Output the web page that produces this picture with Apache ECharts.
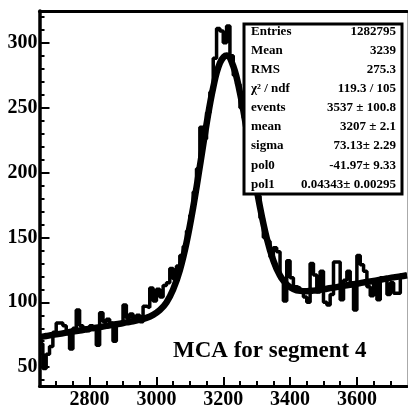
<!DOCTYPE html>
<html>
<head>
<meta charset="utf-8">
<script src="https://cdn.jsdelivr.net/npm/echarts@6/dist/echarts.min.js"></script>
<style>
html,body{margin:0;padding:0;background:#fff;}
#chart{width:408px;height:410px;}
</style>
</head>
<body>
<div id="chart"></div>
<script>
// ---- Histogram: 110 bins of width 10 from 2650 to 3750 ----
const binLow = 2650;
const binWidth = 10;
const counts = [
  68, 49, 60, 66, 77, 84, 84, 82, 76, 64,
  80, 94, 82, 80, 78, 82, 79, 67, 92, 85,
  87, 84, 70, 84, 85, 98, 88, 91, 86, 90,
  85, 97, 96, 111, 101, 110, 104, 113, 115, 126,
  118, 128, 136, 143, 155, 167, 185, 203, 235, 226,
  246, 262, 288, 311, 309, 300, 313, 290, 275, 268,
  250, 242, 222, 212, 190, 182, 165, 150, 147, 135,
  142, 139, 118, 101, 132, 119, 112, 111, 108, 104,
  100, 130, 121, 108, 124, 100, 98, 106, 131, 131,
  102, 117, 124, 115, 94, 136, 129, 124, 112, 105,
  117, 102, 119, 119, 106, 115, 107, 107, 121, 121
];

// ---- Fit curve (gaus + pol1) ----
const fitX = [2650, 2670, 2690, 2710, 2730, 2750, 2770, 2790, 2810, 2830,
  2850, 2870, 2890, 2910, 2930, 2950, 2970, 2990, 3010, 3030,
  3050, 3070, 3090, 3110, 3130, 3150, 3170, 3190, 3210, 3230,
  3250, 3270, 3290, 3310, 3330, 3350, 3370, 3390, 3410, 3430,
  3450, 3470, 3490, 3510, 3530, 3550, 3570, 3590, 3610, 3630,
  3650, 3670, 3690, 3710, 3730, 3750];
const fitY = [73.1, 74.0, 74.9, 75.7, 76.6, 77.5, 78.3, 79.2, 80.1, 80.9,
  81.8, 82.7, 83.5, 84.5, 85.4, 86.6, 88.0, 90.3, 93.9, 99.9,
  109.8, 124.7, 145.9, 173.2, 204.8, 237.3, 265.5, 284.4, 290.3, 282.0,
  261.5, 233.2, 202.3, 173.4, 149.6, 132.1, 120.5, 113.7, 110.2, 108.8,
  108.6, 109.0, 109.7, 110.5, 111.3, 112.2, 113.1, 113.9, 114.8, 115.7,
  116.5, 117.4, 118.3, 119.2, 120.0, 120.9];

// ---- Axis ticks ----
const xMajor = [2800, 3000, 3200, 3400, 3600];
const xMinor = [2700, 2750, 2850, 2900, 2950, 3050, 3100, 3150, 3250, 3300, 3350, 3450, 3500, 3550, 3650, 3700];
const yMajor = [50, 100, 150, 200, 250, 300];
const yMinor = [40, 60, 70, 80, 90, 110, 120, 130, 140, 160, 170, 180, 190, 210, 220, 230, 240, 260, 270, 280, 290, 310, 320];

// ---- Stats box ----
const statNames = ['Entries', 'Mean', 'RMS', 'χ² / ndf', 'events', 'mean', 'sigma', 'pol0', 'pol1'];
const statValues = ['1282795', '3239', '275.3', '119.3 / 105', '3537 ± 100.8', '3207 ± 2.1', '73.13± 2.29', '-41.97± 9.33', '0.04343± 0.00295'];

const titleText = 'MCA for segment 4';

// ---- build ----
const histData = counts.map((c, i) => [binLow + i * binWidth, c]);
histData.push([binLow + counts.length * binWidth, counts[counts.length - 1]]);
const fitData = fitX.map((x, i) => [x, fitY[i]]);

const FONT = 'Liberation Serif';
const X_MIN = 2650, X_MAX = 3750, Y_MIN = 35.5, Y_MAX = 324.5;

const chart = echarts.init(document.getElementById('chart'), null, {renderer: 'canvas'});

const statGraphics = [];
const boxX = 244, boxY = 24, boxW = 158, boxH = 170;
statGraphics.push({
  type: 'rect', z: 100,
  shape: {x: boxX, y: boxY, width: boxW, height: boxH},
  style: {fill: '#fff', stroke: '#000', lineWidth: 3}
});
statNames.forEach((n, k) => {
  const cy = 31.5 + k * 19.1;
  statGraphics.push({
    type: 'text', z: 101, x: 251, y: cy,
    style: {text: n, font: 'bold 13px "' + FONT + '"', fill: '#000', align: 'left', verticalAlign: 'middle'}
  });
  statGraphics.push({
    type: 'text', z: 101, x: 396, y: cy,
    style: {text: statValues[k], font: 'bold 13px "' + FONT + '"', fill: '#000', align: 'right', verticalAlign: 'middle'}
  });
});
statGraphics.push({
  type: 'text', z: 101, x: 173, y: 351,
  style: {text: titleText, font: 'bold 23px "' + FONT + '"', fill: '#000', align: 'left', verticalAlign: 'middle'}
});

const labelStyle = {color: '#000', fontFamily: FONT, fontWeight: 'bold', fontSize: 20, formatter: v => String(v)};

chart.setOption({
  backgroundColor: '#fff',
  animation: false,
  grid: {left: 39.5, right: 1, top: 11, bottom: 21, containLabel: false},
  xAxis: [
    {
      type: 'value', min: X_MIN, max: X_MAX, position: 'bottom',
      axisLine: {show: true, onZero: false, lineStyle: {color: '#000', width: 3}},
      axisTick: {show: true, inside: true, length: 9, customValues: xMajor, lineStyle: {color: '#000', width: 2}},
      axisLabel: Object.assign({show: true, margin: 4, customValues: xMajor, showMinLabel: true, showMaxLabel: true}, labelStyle),
      splitLine: {show: false}
    },
    {
      type: 'value', min: X_MIN, max: X_MAX, position: 'bottom',
      axisLine: {show: false, onZero: false},
      axisTick: {show: true, inside: true, length: 5, customValues: xMinor, lineStyle: {color: '#000', width: 2}},
      axisLabel: {show: false},
      splitLine: {show: false}
    },
    {
      type: 'value', min: X_MIN, max: X_MAX, position: 'top',
      axisLine: {show: true, onZero: false, lineStyle: {color: '#000', width: 3}},
      axisTick: {show: false}, axisLabel: {show: false}, splitLine: {show: false}
    }
  ],
  yAxis: [
    {
      type: 'value', min: Y_MIN, max: Y_MAX, position: 'left',
      axisLine: {show: true, onZero: false, lineStyle: {color: '#000', width: 3.5}},
      axisTick: {show: true, inside: true, length: 10, customValues: yMajor, lineStyle: {color: '#000', width: 2}},
      axisLabel: Object.assign({show: true, margin: 2, customValues: yMajor}, labelStyle),
      splitLine: {show: false}
    },
    {
      type: 'value', min: Y_MIN, max: Y_MAX, position: 'left',
      axisLine: {show: false, onZero: false},
      axisTick: {show: true, inside: true, length: 5, customValues: yMinor, lineStyle: {color: '#000', width: 2}},
      axisLabel: {show: false},
      splitLine: {show: false}
    },
    {
      type: 'value', min: Y_MIN, max: Y_MAX, position: 'right',
      axisLine: {show: true, onZero: false, lineStyle: {color: '#aaa', width: 1}},
      axisTick: {show: false}, axisLabel: {show: false}, splitLine: {show: false}
    }
  ],
  series: [
    {
      type: 'line', name: 'hist', xAxisIndex: 0, yAxisIndex: 0,
      data: histData, step: 'end', symbol: 'none',
      lineStyle: {color: '#000', width: 3.5}, z: 3
    },
    {
      type: 'line', name: 'fit', xAxisIndex: 0, yAxisIndex: 0,
      data: fitData, smooth: 0.4, symbol: 'none',
      lineStyle: {color: '#000', width: 6.5}, z: 4
    }
  ],
  graphic: statGraphics
});
</script>
</body>
</html>
